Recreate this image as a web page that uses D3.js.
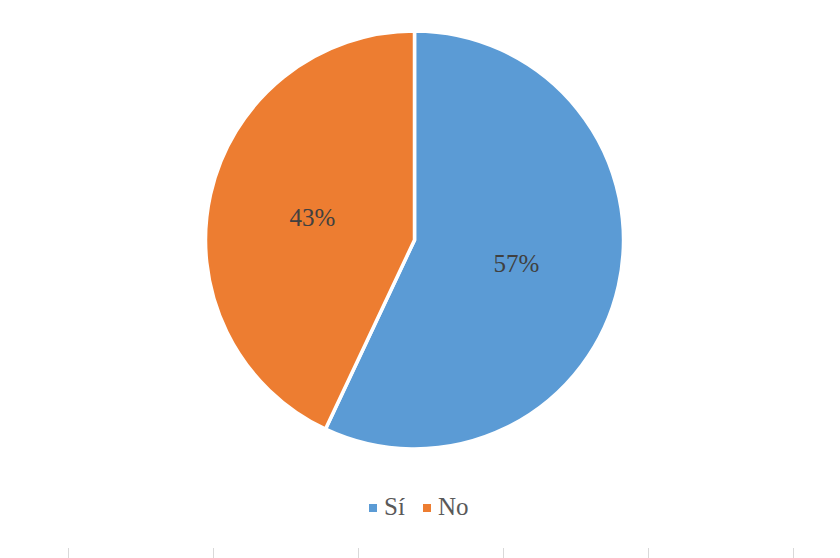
<!DOCTYPE html>
<html lang="es">
<head>
<meta charset="UTF-8">
<title>Sí / No</title>
<script src="https://d3js.org/d3.v7.min.js"></script>
<style>
  body { margin: 0; background: #fff; }
</style>
</head>
<body>
<div id="chart"></div>
<script>
  // chart data
  const categories = ["Sí", "No"];
  const values = [57, 43];
  const colors = ["#5B9BD5", "#ED7D31"];
  const gridTicks = [0, 1, 2, 3, 4, 5];

  const width = 840, height = 558;
  const cx = 414.5, cy = 240, radius = 209;
  const font = "'Liberation Serif', 'Times New Roman', Times, serif";

  const svg = d3.select("#chart")
    .append("svg")
      .attr("width", width)
      .attr("height", height)
      .style("font-family", font);

  const pie = d3.pie().sort(null).value(d => d)(values);
  const arc = d3.arc().innerRadius(0).outerRadius(radius);

  const g = svg.append("g")
      .attr("transform", `translate(${cx}, ${cy})`);

  g.selectAll("path")
    .data(pie)
    .join("path")
      .attr("d", arc)
      .attr("fill", (d, i) => colors[i])
      .attr("stroke", "#fff")
      .attr("stroke-width", 3.5)
      .attr("stroke-linejoin", "miter");

  g.selectAll("text.lbl")
    .data(pie)
    .join("text")
      .attr("class", "lbl")
      .attr("transform", d => `translate(${arc.centroid(d)})`)
      .attr("text-anchor", "middle")
      .attr("dy", "0.35em")
      .attr("font-family", font)
      .attr("font-size", 25)
      .attr("fill", "#404040")
      .text(d => d.data + "%");

  // legend
  const legendX = [369, 423];
  const legend = svg.append("g");
  categories.forEach((c, i) => {
    legend.append("rect")
      .attr("x", legendX[i])
      .attr("y", 504)
      .attr("width", 8)
      .attr("height", 8)
      .attr("fill", colors[i]);
    legend.append("text")
      .attr("x", legendX[i] + 15)
      .attr("y", 515)
      .attr("font-family", font)
      .attr("font-size", 25)
      .attr("fill", "#595959")
      .text(c);
  });

  // faint tick marks along the bottom edge
  const x = d3.scaleLinear().domain([0, 5]).range([68.5, 793.5]);
  svg.selectAll("line.tick")
    .data(gridTicks)
    .join("line")
      .attr("class", "tick")
      .attr("x1", d => x(d))
      .attr("x2", d => x(d))
      .attr("y1", 548)
      .attr("y2", 558)
      .attr("stroke", "#d9d9d9")
      .attr("stroke-width", 1);
</script>
</body>
</html>
